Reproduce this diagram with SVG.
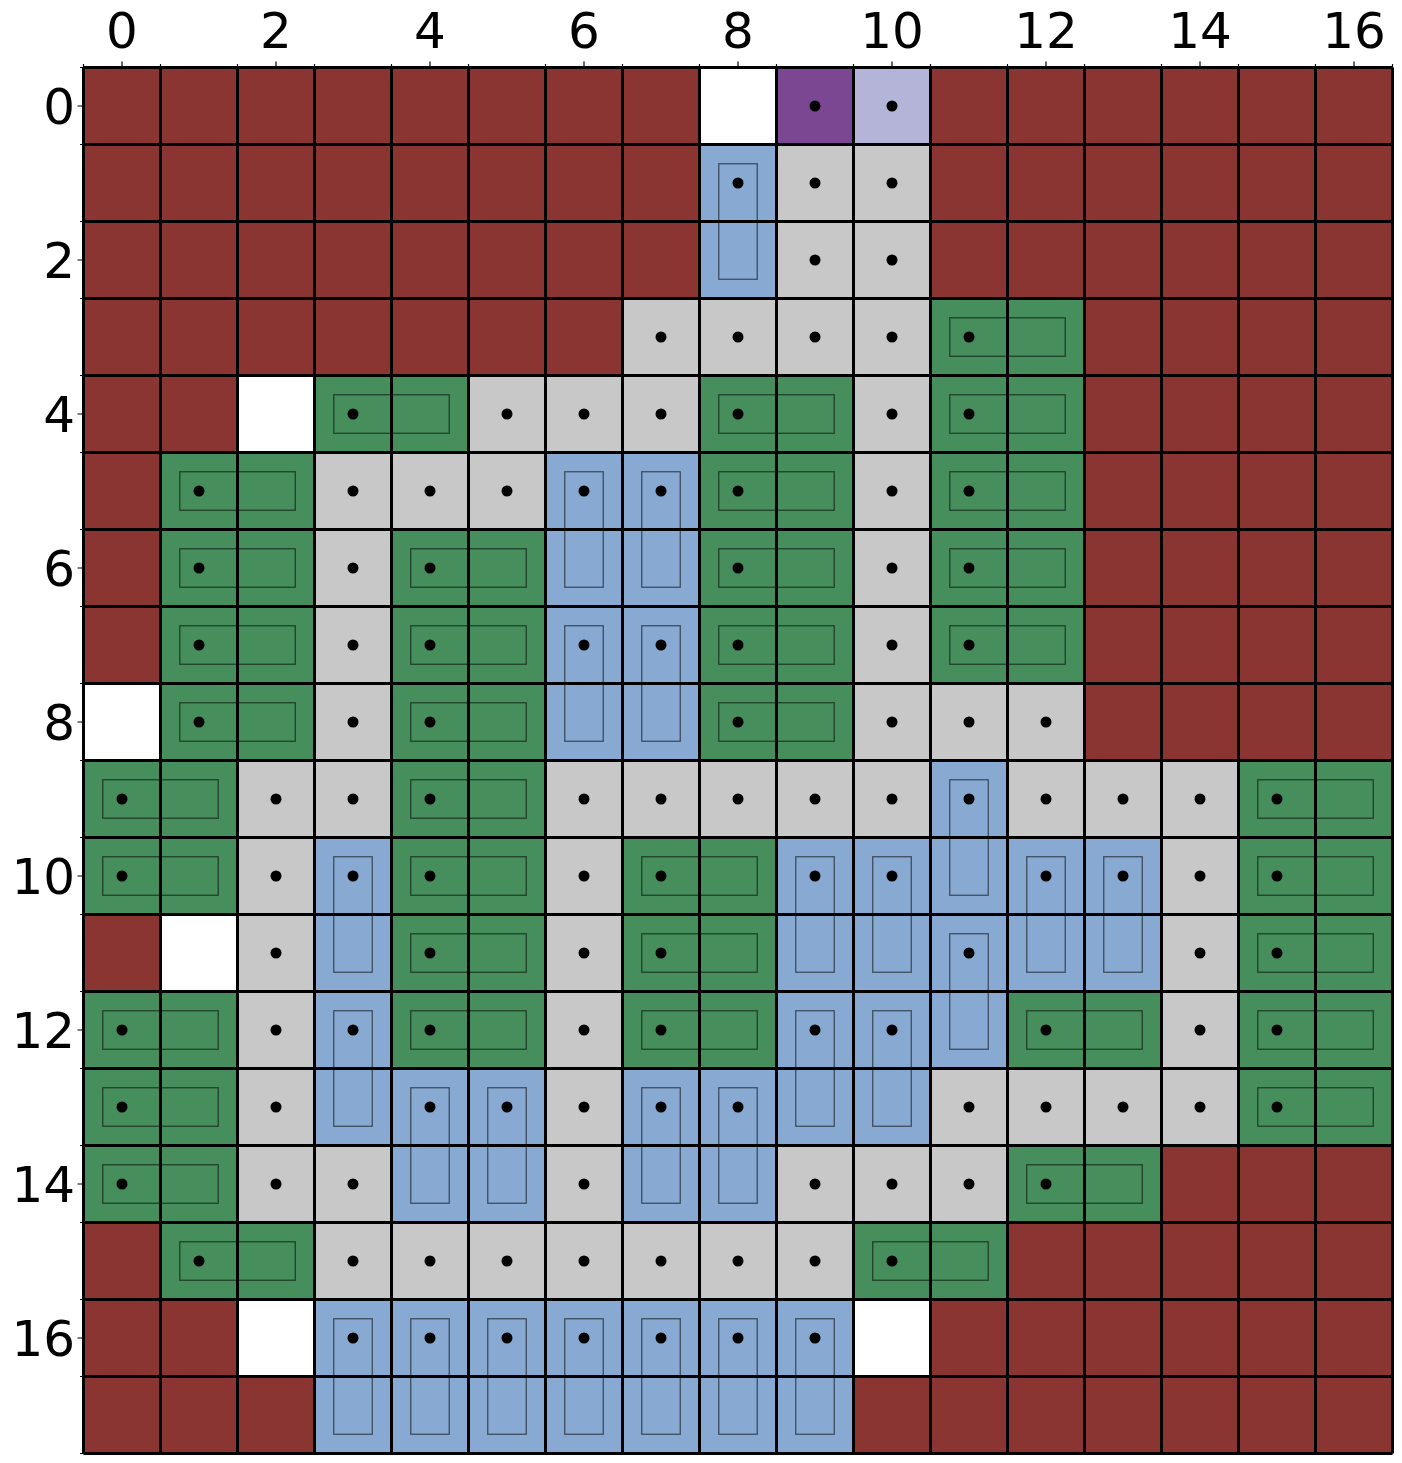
<svg xmlns="http://www.w3.org/2000/svg" xmlns:xlink="http://www.w3.org/1999/xlink" width="1402" height="1463" viewBox="0 0 1402 1463">
<style>
.r{fill:#8B3532}.g{fill:#468F5C}.b{fill:#87A9D2}.y{fill:#C8C8C8}.w{fill:#FFFFFF}.p{fill:#7B4692}.l{fill:#B4B4D8}
.grid{stroke:#000;stroke-width:3;fill:none}
.tick{stroke:#000;stroke-width:1.2;fill:none}
.lab{font-family:"DejaVu Sans",sans-serif;font-size:50px;fill:#000}
.in{fill:none;stroke:#000;stroke-opacity:0.55;stroke-width:1.3}
</style>
<defs>
<circle id="d" cx="0" cy="0" r="5.5" fill="#000"/>
<rect id="h" class="in" x="-19.25" y="-19.25" width="115.5" height="38.5"/>
<rect id="v" class="in" x="-19.25" y="-19.25" width="38.5" height="115.5"/>
</defs>
<rect width="1402" height="1463" fill="#fff"/>
<g id="cells">
<rect class="r" x="83.5" y="67.5" width="1309" height="1386"/>
<!-- row 0 -->
<rect class="w" x="699.5" y="67.5" width="77" height="77"/>
<rect class="p" x="776.5" y="67.5" width="77" height="77"/>
<rect class="l" x="853.5" y="67.5" width="77" height="77"/>
<!-- row 1-2 -->
<rect class="b" x="699.5" y="144.5" width="77" height="154"/>
<rect class="y" x="776.5" y="144.5" width="154" height="154"/>
<!-- row 3 -->
<rect class="y" x="622.5" y="298.5" width="308" height="77"/>
<rect class="g" x="930.5" y="298.5" width="154" height="77"/>
<!-- row 4 -->
<rect class="w" x="237.5" y="375.5" width="77" height="77"/>
<rect class="g" x="314.5" y="375.5" width="154" height="77"/>
<rect class="y" x="468.5" y="375.5" width="231" height="77"/>
<rect class="g" x="699.5" y="375.5" width="154" height="77"/>
<rect class="y" x="853.5" y="375.5" width="77" height="77"/>
<rect class="g" x="930.5" y="375.5" width="154" height="77"/>
<!-- row 5 -->
<rect class="g" x="160.5" y="452.5" width="154" height="77"/>
<rect class="y" x="314.5" y="452.5" width="231" height="77"/>
<rect class="b" x="545.5" y="452.5" width="154" height="77"/>
<rect class="g" x="699.5" y="452.5" width="154" height="77"/>
<rect class="y" x="853.5" y="452.5" width="77" height="77"/>
<rect class="g" x="930.5" y="452.5" width="154" height="77"/>
<!-- rows 6-7 -->
<rect class="g" x="160.5" y="529.5" width="154" height="154"/>
<rect class="y" x="314.5" y="529.5" width="77" height="154"/>
<rect class="g" x="391.5" y="529.5" width="154" height="154"/>
<rect class="b" x="545.5" y="529.5" width="154" height="154"/>
<rect class="g" x="699.5" y="529.5" width="154" height="154"/>
<rect class="y" x="853.5" y="529.5" width="77" height="154"/>
<rect class="g" x="930.5" y="529.5" width="154" height="154"/>
<!-- row 8 -->
<rect class="w" x="83.5" y="683.5" width="77" height="77"/>
<rect class="g" x="160.5" y="683.5" width="154" height="77"/>
<rect class="y" x="314.5" y="683.5" width="77" height="77"/>
<rect class="g" x="391.5" y="683.5" width="154" height="77"/>
<rect class="b" x="545.5" y="683.5" width="154" height="77"/>
<rect class="g" x="699.5" y="683.5" width="154" height="77"/>
<rect class="y" x="853.5" y="683.5" width="231" height="77"/>
<!-- row 9 -->
<rect class="g" x="83.5" y="760.5" width="154" height="77"/>
<rect class="y" x="237.5" y="760.5" width="154" height="77"/>
<rect class="g" x="391.5" y="760.5" width="154" height="77"/>
<rect class="y" x="545.5" y="760.5" width="385" height="77"/>
<rect class="b" x="930.5" y="760.5" width="77" height="77"/>
<rect class="y" x="1007.5" y="760.5" width="231" height="77"/>
<rect class="g" x="1238.5" y="760.5" width="154" height="77"/>
<!-- row 10 -->
<rect class="g" x="83.5" y="837.5" width="154" height="77"/>
<rect class="y" x="237.5" y="837.5" width="77" height="77"/>
<rect class="b" x="314.5" y="837.5" width="77" height="77"/>
<rect class="g" x="391.5" y="837.5" width="154" height="77"/>
<rect class="y" x="545.5" y="837.5" width="77" height="77"/>
<rect class="g" x="622.5" y="837.5" width="154" height="77"/>
<rect class="b" x="776.5" y="837.5" width="385" height="77"/>
<rect class="y" x="1161.5" y="837.5" width="77" height="77"/>
<rect class="g" x="1238.5" y="837.5" width="154" height="77"/>
<!-- row 11 -->
<rect class="w" x="160.5" y="914.5" width="77" height="77"/>
<rect class="y" x="237.5" y="914.5" width="77" height="77"/>
<rect class="b" x="314.5" y="914.5" width="77" height="77"/>
<rect class="g" x="391.5" y="914.5" width="154" height="77"/>
<rect class="y" x="545.5" y="914.5" width="77" height="77"/>
<rect class="g" x="622.5" y="914.5" width="154" height="77"/>
<rect class="b" x="776.5" y="914.5" width="385" height="77"/>
<rect class="y" x="1161.5" y="914.5" width="77" height="77"/>
<rect class="g" x="1238.5" y="914.5" width="154" height="77"/>
<!-- row 12 -->
<rect class="g" x="83.5" y="991.5" width="154" height="77"/>
<rect class="y" x="237.5" y="991.5" width="77" height="77"/>
<rect class="b" x="314.5" y="991.5" width="77" height="77"/>
<rect class="g" x="391.5" y="991.5" width="154" height="77"/>
<rect class="y" x="545.5" y="991.5" width="77" height="77"/>
<rect class="g" x="622.5" y="991.5" width="154" height="77"/>
<rect class="b" x="776.5" y="991.5" width="231" height="77"/>
<rect class="g" x="1007.5" y="991.5" width="154" height="77"/>
<rect class="y" x="1161.5" y="991.5" width="77" height="77"/>
<rect class="g" x="1238.5" y="991.5" width="154" height="77"/>
<!-- row 13 -->
<rect class="g" x="83.5" y="1068.5" width="154" height="77"/>
<rect class="y" x="237.5" y="1068.5" width="77" height="77"/>
<rect class="b" x="314.5" y="1068.5" width="231" height="77"/>
<rect class="y" x="545.5" y="1068.5" width="77" height="77"/>
<rect class="b" x="622.5" y="1068.5" width="308" height="77"/>
<rect class="y" x="930.5" y="1068.5" width="308" height="77"/>
<rect class="g" x="1238.5" y="1068.5" width="154" height="77"/>
<!-- row 14 -->
<rect class="g" x="83.5" y="1145.5" width="154" height="77"/>
<rect class="y" x="237.5" y="1145.5" width="154" height="77"/>
<rect class="b" x="391.5" y="1145.5" width="154" height="77"/>
<rect class="y" x="545.5" y="1145.5" width="77" height="77"/>
<rect class="b" x="622.5" y="1145.5" width="154" height="77"/>
<rect class="y" x="776.5" y="1145.5" width="231" height="77"/>
<rect class="g" x="1007.5" y="1145.5" width="154" height="77"/>
<!-- row 15 -->
<rect class="g" x="160.5" y="1222.5" width="154" height="77"/>
<rect class="y" x="314.5" y="1222.5" width="539" height="77"/>
<rect class="g" x="853.5" y="1222.5" width="154" height="77"/>
<!-- row 16-17 -->
<rect class="w" x="237.5" y="1299.5" width="77" height="77"/>
<rect class="b" x="314.5" y="1299.5" width="539" height="154"/>
<rect class="w" x="853.5" y="1299.5" width="77" height="77"/>
</g>
<g id="gridlines">
<path class="grid" d="M83.5 67.5V1453.5M160.5 67.5V1453.5M237.5 67.5V1453.5M314.5 67.5V1453.5M391.5 67.5V1453.5M468.5 67.5V1453.5M545.5 67.5V1453.5M622.5 67.5V1453.5M699.5 67.5V1453.5M776.5 67.5V1453.5M853.5 67.5V1453.5M930.5 67.5V1453.5M1007.5 67.5V1453.5M1084.5 67.5V1453.5M1161.5 67.5V1453.5M1238.5 67.5V1453.5M1315.5 67.5V1453.5M1392.5 67.5V1453.5
M83.5 67.5H1392.5M83.5 144.5H1392.5M83.5 221.5H1392.5M83.5 298.5H1392.5M83.5 375.5H1392.5M83.5 452.5H1392.5M83.5 529.5H1392.5M83.5 606.5H1392.5M83.5 683.5H1392.5M83.5 760.5H1392.5M83.5 837.5H1392.5M83.5 914.5H1392.5M83.5 991.5H1392.5M83.5 1068.5H1392.5M83.5 1145.5H1392.5M83.5 1222.5H1392.5M83.5 1299.5H1392.5M83.5 1376.5H1392.5M83.5 1453.5H1392.5"/>
</g>
<g id="pieces">
<use href="#h" x="969" y="337"/><use href="#h" x="353" y="414"/><use href="#h" x="738" y="414"/><use href="#h" x="969" y="414"/>
<use href="#h" x="199" y="491"/><use href="#h" x="738" y="491"/><use href="#h" x="969" y="491"/>
<use href="#h" x="199" y="568"/><use href="#h" x="430" y="568"/><use href="#h" x="738" y="568"/><use href="#h" x="969" y="568"/>
<use href="#h" x="199" y="645"/><use href="#h" x="430" y="645"/><use href="#h" x="738" y="645"/><use href="#h" x="969" y="645"/>
<use href="#h" x="199" y="722"/><use href="#h" x="430" y="722"/><use href="#h" x="738" y="722"/>
<use href="#h" x="122" y="799"/><use href="#h" x="430" y="799"/><use href="#h" x="1277" y="799"/>
<use href="#h" x="122" y="876"/><use href="#h" x="430" y="876"/><use href="#h" x="661" y="876"/><use href="#h" x="1277" y="876"/>
<use href="#h" x="430" y="953"/><use href="#h" x="661" y="953"/><use href="#h" x="1277" y="953"/>
<use href="#h" x="122" y="1030"/><use href="#h" x="430" y="1030"/><use href="#h" x="661" y="1030"/><use href="#h" x="1046" y="1030"/><use href="#h" x="1277" y="1030"/>
<use href="#h" x="122" y="1107"/><use href="#h" x="1277" y="1107"/>
<use href="#h" x="122" y="1184"/><use href="#h" x="1046" y="1184"/>
<use href="#h" x="199" y="1261"/><use href="#h" x="892" y="1261"/>
<use href="#v" x="738" y="183"/><use href="#v" x="584" y="491"/><use href="#v" x="661" y="491"/><use href="#v" x="584" y="645"/><use href="#v" x="661" y="645"/>
<use href="#v" x="969" y="799"/><use href="#v" x="353" y="876"/><use href="#v" x="815" y="876"/><use href="#v" x="892" y="876"/><use href="#v" x="1046" y="876"/><use href="#v" x="1123" y="876"/>
<use href="#v" x="969" y="953"/><use href="#v" x="353" y="1030"/><use href="#v" x="815" y="1030"/><use href="#v" x="892" y="1030"/>
<use href="#v" x="430" y="1107"/><use href="#v" x="507" y="1107"/><use href="#v" x="661" y="1107"/><use href="#v" x="738" y="1107"/>
<use href="#v" x="353" y="1338"/><use href="#v" x="430" y="1338"/><use href="#v" x="507" y="1338"/><use href="#v" x="584" y="1338"/><use href="#v" x="661" y="1338"/><use href="#v" x="738" y="1338"/><use href="#v" x="815" y="1338"/>
</g>
<g id="dots">
<use href="#d" x="815" y="106"/><use href="#d" x="892" y="106"/>
<use href="#d" x="738" y="183"/><use href="#d" x="815" y="183"/><use href="#d" x="892" y="183"/>
<use href="#d" x="815" y="260"/><use href="#d" x="892" y="260"/>
<use href="#d" x="661" y="337"/><use href="#d" x="738" y="337"/><use href="#d" x="815" y="337"/><use href="#d" x="892" y="337"/><use href="#d" x="969" y="337"/>
<use href="#d" x="353" y="414"/><use href="#d" x="507" y="414"/><use href="#d" x="584" y="414"/><use href="#d" x="661" y="414"/><use href="#d" x="738" y="414"/><use href="#d" x="892" y="414"/><use href="#d" x="969" y="414"/>
<use href="#d" x="199" y="491"/><use href="#d" x="353" y="491"/><use href="#d" x="430" y="491"/><use href="#d" x="507" y="491"/><use href="#d" x="584" y="491"/><use href="#d" x="661" y="491"/><use href="#d" x="738" y="491"/><use href="#d" x="892" y="491"/><use href="#d" x="969" y="491"/>
<use href="#d" x="199" y="568"/><use href="#d" x="353" y="568"/><use href="#d" x="430" y="568"/><use href="#d" x="738" y="568"/><use href="#d" x="892" y="568"/><use href="#d" x="969" y="568"/>
<use href="#d" x="199" y="645"/><use href="#d" x="353" y="645"/><use href="#d" x="430" y="645"/><use href="#d" x="584" y="645"/><use href="#d" x="661" y="645"/><use href="#d" x="738" y="645"/><use href="#d" x="892" y="645"/><use href="#d" x="969" y="645"/>
<use href="#d" x="199" y="722"/><use href="#d" x="353" y="722"/><use href="#d" x="430" y="722"/><use href="#d" x="738" y="722"/><use href="#d" x="892" y="722"/><use href="#d" x="969" y="722"/><use href="#d" x="1046" y="722"/>
<use href="#d" x="122" y="799"/><use href="#d" x="276" y="799"/><use href="#d" x="353" y="799"/><use href="#d" x="430" y="799"/><use href="#d" x="584" y="799"/><use href="#d" x="661" y="799"/><use href="#d" x="738" y="799"/><use href="#d" x="815" y="799"/><use href="#d" x="892" y="799"/><use href="#d" x="969" y="799"/><use href="#d" x="1046" y="799"/><use href="#d" x="1123" y="799"/><use href="#d" x="1200" y="799"/><use href="#d" x="1277" y="799"/>
<use href="#d" x="122" y="876"/><use href="#d" x="276" y="876"/><use href="#d" x="353" y="876"/><use href="#d" x="430" y="876"/><use href="#d" x="584" y="876"/><use href="#d" x="661" y="876"/><use href="#d" x="815" y="876"/><use href="#d" x="892" y="876"/><use href="#d" x="1046" y="876"/><use href="#d" x="1123" y="876"/><use href="#d" x="1200" y="876"/><use href="#d" x="1277" y="876"/>
<use href="#d" x="276" y="953"/><use href="#d" x="430" y="953"/><use href="#d" x="584" y="953"/><use href="#d" x="661" y="953"/><use href="#d" x="969" y="953"/><use href="#d" x="1200" y="953"/><use href="#d" x="1277" y="953"/>
<use href="#d" x="122" y="1030"/><use href="#d" x="276" y="1030"/><use href="#d" x="353" y="1030"/><use href="#d" x="430" y="1030"/><use href="#d" x="584" y="1030"/><use href="#d" x="661" y="1030"/><use href="#d" x="815" y="1030"/><use href="#d" x="892" y="1030"/><use href="#d" x="1046" y="1030"/><use href="#d" x="1200" y="1030"/><use href="#d" x="1277" y="1030"/>
<use href="#d" x="122" y="1107"/><use href="#d" x="276" y="1107"/><use href="#d" x="430" y="1107"/><use href="#d" x="507" y="1107"/><use href="#d" x="584" y="1107"/><use href="#d" x="661" y="1107"/><use href="#d" x="738" y="1107"/><use href="#d" x="969" y="1107"/><use href="#d" x="1046" y="1107"/><use href="#d" x="1123" y="1107"/><use href="#d" x="1200" y="1107"/><use href="#d" x="1277" y="1107"/>
<use href="#d" x="122" y="1184"/><use href="#d" x="276" y="1184"/><use href="#d" x="353" y="1184"/><use href="#d" x="584" y="1184"/><use href="#d" x="815" y="1184"/><use href="#d" x="892" y="1184"/><use href="#d" x="969" y="1184"/><use href="#d" x="1046" y="1184"/>
<use href="#d" x="199" y="1261"/><use href="#d" x="353" y="1261"/><use href="#d" x="430" y="1261"/><use href="#d" x="507" y="1261"/><use href="#d" x="584" y="1261"/><use href="#d" x="661" y="1261"/><use href="#d" x="738" y="1261"/><use href="#d" x="815" y="1261"/><use href="#d" x="892" y="1261"/>
<use href="#d" x="353" y="1338"/><use href="#d" x="430" y="1338"/><use href="#d" x="507" y="1338"/><use href="#d" x="584" y="1338"/><use href="#d" x="661" y="1338"/><use href="#d" x="738" y="1338"/><use href="#d" x="815" y="1338"/>
</g>
<g id="axes">
<path class="tick" d="M122 61.5V67.5M276 61.5V67.5M430 61.5V67.5M584 61.5V67.5M738 61.5V67.5M892 61.5V67.5M1046 61.5V67.5M1200 61.5V67.5M1354 61.5V67.5
M83.5 64V67.5M160.5 64V67.5M237.5 64V67.5M314.5 64V67.5M391.5 64V67.5M468.5 64V67.5M545.5 64V67.5M622.5 64V67.5M699.5 64V67.5M776.5 64V67.5M853.5 64V67.5M930.5 64V67.5M1007.5 64V67.5M1084.5 64V67.5M1161.5 64V67.5M1238.5 64V67.5M1315.5 64V67.5M1392.5 64V67.5
M77.5 106H83.5M77.5 260H83.5M77.5 414H83.5M77.5 568H83.5M77.5 722H83.5M77.5 876H83.5M77.5 1030H83.5M77.5 1184H83.5M77.5 1338H83.5
M80 67.5H83.5M80 144.5H83.5M80 221.5H83.5M80 298.5H83.5M80 375.5H83.5M80 452.5H83.5M80 529.5H83.5M80 606.5H83.5M80 683.5H83.5M80 760.5H83.5M80 837.5H83.5M80 914.5H83.5M80 991.5H83.5M80 1068.5H83.5M80 1145.5H83.5M80 1222.5H83.5M80 1299.5H83.5M80 1376.5H83.5M80 1453.5H83.5"/>
<g class="lab" text-anchor="middle">
<text x="122" y="48">0</text><text x="276" y="48">2</text><text x="430" y="48">4</text><text x="584" y="48">6</text><text x="738" y="48">8</text><text x="892" y="48">10</text><text x="1046" y="48">12</text><text x="1200" y="48">14</text><text x="1354" y="48">16</text>
</g>
<g class="lab" text-anchor="end">
<text x="75" y="124">0</text><text x="75" y="278">2</text><text x="75" y="432">4</text><text x="75" y="586">6</text><text x="75" y="740">8</text><text x="75" y="894">10</text><text x="75" y="1048">12</text><text x="75" y="1202">14</text><text x="75" y="1356">16</text>
</g>
</g>
</svg>
